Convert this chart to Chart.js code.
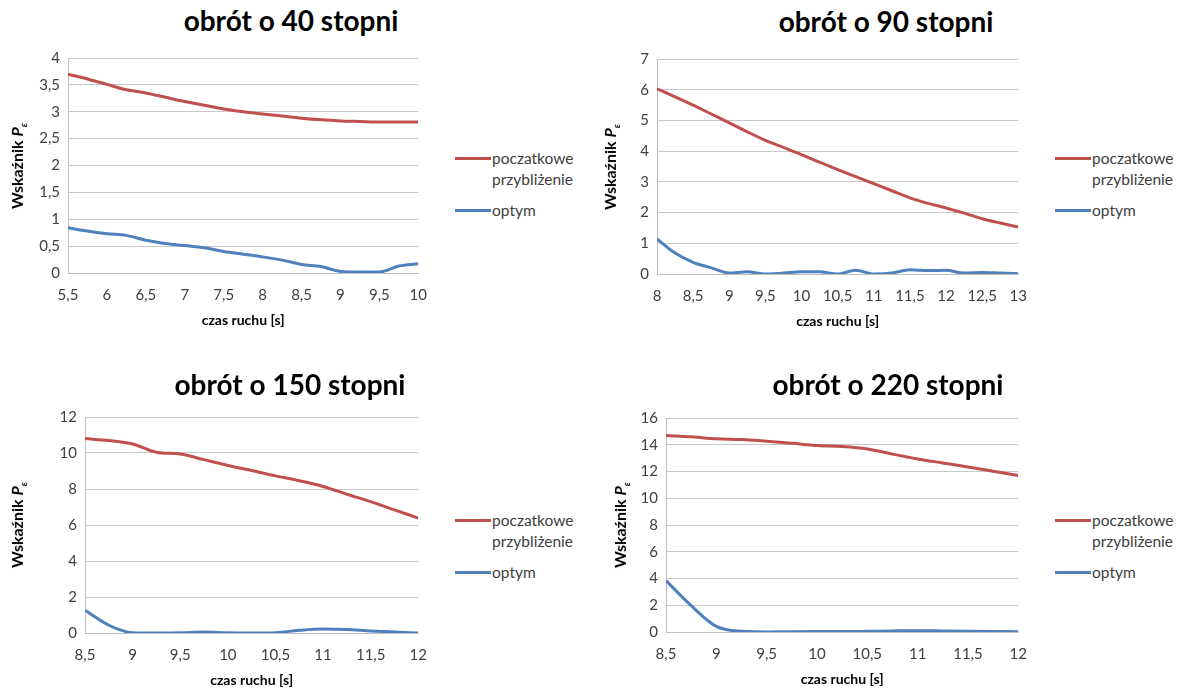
<!DOCTYPE html>
<html><head><meta charset="utf-8">
<script src="https://cdn.jsdelivr.net/npm/chart.js@4.4.0/dist/chart.umd.min.js"></script>
<style>
body{margin:0;background:#fff;width:1186px;height:688px;overflow:hidden;position:relative;font-family:Lato,"Noto Sans",sans-serif;}
canvas{position:absolute;}
.title{position:absolute;font-weight:bold;font-size:28px;color:#000;transform:translate(-50%,-50%);white-space:nowrap;}
.ytitle{position:absolute;font-weight:bold;font-size:16px;color:#000;transform:translate(-50%,-50%) rotate(-90deg);white-space:nowrap;}
.ytitle sub{font-size:10px;}
.leg{position:absolute;font-size:15.5px;color:#404040;line-height:21px;}
.leg .row{position:relative;padding-left:37px;}
.leg .sw{position:absolute;left:0;top:9px;width:36px;height:3px;}
</style></head><body>
<script>
const seriesNames = ["poczatkowe\nprzybliżenie", "optym"];
const titles = ["obrót o 40 stopni", "obrót o 90 stopni", "obrót o 150 stopni", "obrót o 220 stopni"];
const xTitle = "czas ruchu [s]";

const x40 = [5.5,5.75,6,6.25,6.5,6.75,7,7.25,7.5,7.75,8,8.25,8.5,8.75,9,9.25,9.5,9.75,10];
const red40 = [3.70,3.61,3.51,3.41,3.35,3.27,3.19,3.12,3.05,3.00,2.96,2.92,2.88,2.85,2.83,2.82,2.81,2.81,2.81];
const blue40 = [0.84,0.78,0.73,0.70,0.61,0.55,0.51,0.47,0.40,0.35,0.30,0.24,0.16,0.12,0.03,0.02,0.02,0.13,0.17];

const x90 = [8,8.25,8.5,8.75,9,9.25,9.5,9.75,10,10.25,10.5,10.75,11,11.25,11.5,11.75,12,12.25,12.5,12.75,13];
const red90 = [6.03,5.77,5.50,5.21,4.92,4.63,4.35,4.12,3.89,3.64,3.40,3.17,2.94,2.71,2.48,2.30,2.15,1.98,1.80,1.66,1.53];
const blue90 = [1.14,0.68,0.38,0.20,0.03,0.07,0.00,0.03,0.07,0.07,0.00,0.12,0.00,0.03,0.14,0.11,0.12,0.03,0.05,0.03,0.01];

const x150 = [8.5,8.75,9,9.25,9.5,9.75,10,10.25,10.5,10.75,11,11.25,11.5,11.75,12];
const red150 = [10.80,10.69,10.50,10.04,9.94,9.63,9.31,9.03,8.73,8.46,8.14,7.71,7.30,6.84,6.38];
const blue150 = [1.26,0.43,0.02,0.00,0.01,0.05,0.01,0.00,0.02,0.15,0.22,0.19,0.11,0.06,0.00];

const x220 = [8.5,8.75,9,9.25,9.5,9.75,10,10.25,10.5,10.75,11,11.25,11.5,11.75,12];
const red220 = [14.69,14.59,14.44,14.39,14.26,14.11,13.94,13.87,13.69,13.30,12.94,12.64,12.34,12.02,11.70];
const blue220 = [3.84,1.97,0.42,0.05,0.00,0.02,0.03,0.03,0.05,0.08,0.10,0.08,0.06,0.04,0.02];

const yTicks40 = {min:0,max:4,step:0.5};
const yTicks90 = {min:0,max:7,step:1};
const yTicks150 = {min:0,max:12,step:2};
const yTicks220 = {min:0,max:16,step:2};

const RED = "#C0504D", BLUE = "#4F81BD";

const charts = [
  {x:x40, r:red40, b:blue40, yt:yTicks40, xmin:5.5, xmax:10, box:{L:0,T:40,W:440}, plot:{l:68,r:422,t:58,b:273}, title:{x:291,y:20}, yl:{x:18}, leg:{x:455,y:148}},
  {x:x90, r:red90, b:blue90, yt:yTicks90, xmin:8, xmax:13, box:{L:590,T:40,W:450}, plot:{l:657,r:1023,t:59,b:274}, title:{x:886,y:21}, yl:{x:611}, leg:{x:1055,y:148}},
  {x:x150, r:red150, b:blue150, yt:yTicks150, xmin:8.5, xmax:12, box:{L:0,T:400,W:440}, plot:{l:85,r:423,t:417,b:633}, title:{x:290,y:384}, yl:{x:18}, leg:{x:455,y:510}},
  {x:x220, r:red220, b:blue220, yt:yTicks220, xmin:8.5, xmax:12, box:{L:590,T:400,W:450}, plot:{l:666,r:1022,t:418,b:632}, title:{x:888,y:384}, yl:{x:621}, leg:{x:1055,y:510}}
];

const fmt = v => (Math.round(v*100)/100).toString().replace('.', ',');
const FONT = 'Lato, "Noto Sans", sans-serif';

charts.forEach((c, i) => {
  const H = c.plot.b + 56 - c.box.T;
  const cv = document.createElement('canvas');
  cv.width = c.box.W; cv.height = H;
  cv.style.left = c.box.L + 'px'; cv.style.top = c.box.T + 'px';
  cv.style.width = c.box.W + 'px'; cv.style.height = H + 'px';
  document.body.appendChild(cv);
  const yW = c.plot.l - c.box.L;
  const padR = c.box.L + c.box.W - c.plot.r;
  const padT = c.plot.t - c.box.T;
  new Chart(cv, {
    type: 'line',
    data: { datasets: [
      {label: seriesNames[0], data: c.x.map((v,k)=>({x:v,y:c.r[k]})), borderColor: RED, borderWidth: 3, pointRadius: 0, tension: 0.35, cubicInterpolationMode:'monotone', fill:false},
      {label: seriesNames[1], data: c.x.map((v,k)=>({x:v,y:c.b[k]})), borderColor: BLUE, borderWidth: 3, pointRadius: 0, tension: 0.35, cubicInterpolationMode:'monotone', fill:false}
    ]},
    options: {
      responsive: false, animation: false, devicePixelRatio: 1,
      layout: { padding: { left: 0, right: padR, top: padT, bottom: 0 } },
      plugins: { legend: { display: false }, tooltip: { enabled: false } },
      scales: {
        x: { type: 'linear', min: c.xmin, max: c.xmax,
             ticks: { stepSize: 0.5, callback: fmt, color: '#404040', font: { family: FONT, size: 15 }, padding: 13, maxRotation: 0, autoSkip: false },
             grid: { display: false, drawTicks: false },
             border: { display: true, color: '#BFBFBF', width: 1 },
             title: { display: true, text: xTitle, color: '#000', font: { family: FONT, size: 14, weight: 'bold' }, padding: 0 },
             afterFit: s => { s.height = 56; } },
        y: { min: c.yt.min, max: c.yt.max,
             ticks: { stepSize: c.yt.step, callback: fmt, color: '#404040', font: { family: FONT, size: 15 }, padding: 8 },
             grid: { color: '#C8C8C8', drawTicks: false, lineWidth: 1 },
             border: { display: true, color: '#BFBFBF', width: 1 },
             afterFit: s => { s.width = yW; } }
      }
    }
  });

  const t = document.createElement('div');
  t.className = 'title'; t.textContent = titles[i];
  t.style.left = c.title.x + 'px'; t.style.top = c.title.y + 'px';
  document.body.appendChild(t);

  const yl = document.createElement('div');
  yl.className = 'ytitle'; yl.innerHTML = 'Wskaźnik <i>P<sub>ε</sub></i>';
  yl.style.left = c.yl.x + 'px'; yl.style.top = ((c.plot.t + c.plot.b)/2) + 'px';
  document.body.appendChild(yl);

  const lg = document.createElement('div');
  lg.className = 'leg'; lg.style.left = c.leg.x + 'px'; lg.style.top = c.leg.y + 'px';
  [[RED, seriesNames[0]], [BLUE, seriesNames[1]]].forEach(([col, name], k) => {
    const row = document.createElement('div'); row.className = 'row';
    if (k === 1) row.style.marginTop = '10px';
    const sw = document.createElement('div'); sw.className = 'sw'; sw.style.background = col;
    row.appendChild(sw);
    name.split('\n').forEach((ln, j) => {
      const d = document.createElement('div'); d.textContent = ln; row.appendChild(d);
    });
    lg.appendChild(row);
  });
  document.body.appendChild(lg);
});
</script>
</body></html>
